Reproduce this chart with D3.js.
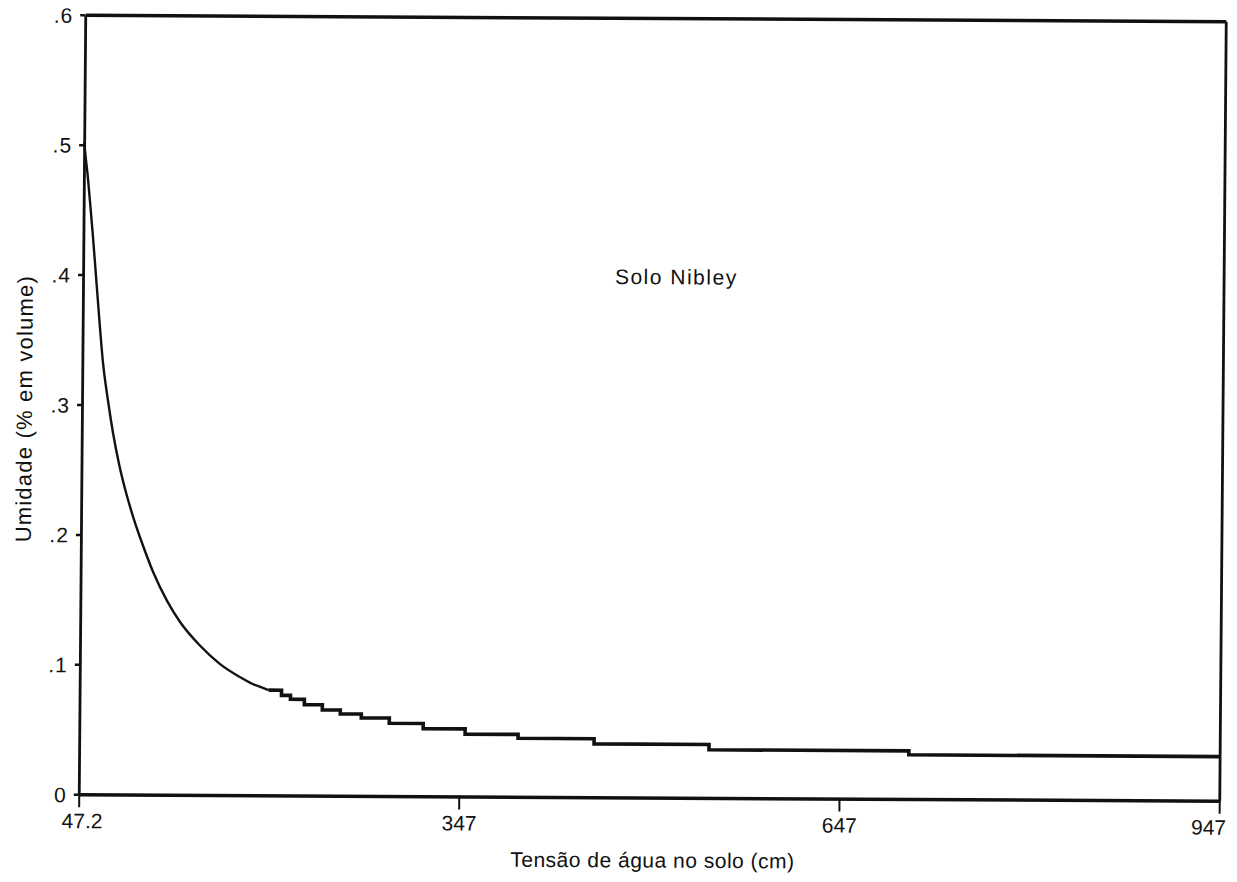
<!DOCTYPE html>
<html>
<head>
<meta charset="utf-8">
<script src="https://cdn.jsdelivr.net/npm/d3@7"></script>
<style>
  html, body { margin: 0; padding: 0; background: #fff; }
  svg { display: block; }
  text { font-family: "Liberation Sans", Arial, Helvetica, sans-serif; fill: #111; }
</style>
</head>
<body>
<svg id="chart" width="1237" height="882"></svg>
<script>
// Retention curve of the Nibley soil: water content vs. soil water tension
const xTicks = [47.2, 347, 647, 947];
const xTickLabels = ["47.2", "347", "647", "947"];
const yTicks = [0, 0.1, 0.2, 0.3, 0.4, 0.5, 0.6];
const yTickLabels = ["0", ".1", ".2", ".3", ".4", ".5", ".6"];

// steep part near saturation (drawn as a continuous line)
const headTension  = [47.2, 48.5, 50.0, 52.0, 54.5, 57.3, 60.8, 63.4, 67.7, 71.9, 76.9, 83.5, 88.2, 96.5, 104.6, 115.7, 126.0, 141.8, 157.6, 173.4, 182.8, 190.7, 196.3];
const headMoisture = [0.502, 0.490, 0.478, 0.458, 0.432, 0.400, 0.360, 0.333, 0.303, 0.278, 0.254, 0.229, 0.214, 0.191, 0.171, 0.149, 0.133, 0.115, 0.101, 0.091, 0.086, 0.083, 0.081];

// flat tail (plotter steps: each value holds until the next tension)
const tailTension  = [196.3, 206.5, 213.6, 224.6, 238.8, 253.0, 269.6, 291.7, 318.5, 351.6, 393.4, 453.4, 544.1, 701.8, 947];
const tailMoisture = [0.081, 0.077, 0.074, 0.070, 0.066, 0.063, 0.060, 0.056, 0.052, 0.048, 0.045, 0.041, 0.037, 0.034, 0.034];

const svg = d3.select("#chart");
const plotLeft = 82, plotRight = 1222, plotTop = 18, plotBottom = 797;

const x = d3.scaleLinear().domain([47.2, 947]).range([plotLeft, plotRight]);
const y = d3.scaleLinear().domain([0, 0.6]).range([plotBottom, plotTop]);

// the printed sheet sits slightly askew
const g = svg.append("g")
  .attr("transform", "matrix(1.00044,0.0057,-0.008344,1.00064,3.364,-3.729)");

const ink = "#111";

// frame: top and right edges
g.append("g")
  .attr("transform", `translate(0,${y(0.6)})`)
  .call(d3.axisTop(x).tickValues([]).tickSizeOuter(0))
  .call(s => s.select(".domain").attr("stroke", ink).attr("stroke-width", 3.5));

g.append("g")
  .attr("transform", `translate(${x(947)},0)`)
  .call(d3.axisRight(y).tickValues([]).tickSizeOuter(0))
  .call(s => s.select(".domain").attr("stroke", ink).attr("stroke-width", 2.8));

// left axis
const yAxis = g.append("g")
  .attr("transform", `translate(${plotLeft},0)`)
  .call(d3.axisLeft(y).tickValues(yTicks).tickSize(5).tickSizeOuter(0)
    .tickFormat((d, i) => yTickLabels[i]));
yAxis.select(".domain").attr("stroke", ink).attr("stroke-width", 2.8);
yAxis.selectAll(".tick line").attr("stroke", ink).attr("stroke-width", 2.5);
yAxis.selectAll(".tick text")
  .attr("x", -12).attr("dy", "0.36em")
  .style("font-size", "21px").style("letter-spacing", "1px").attr("fill", ink);

// bottom axis
const xAxis = g.append("g")
  .attr("transform", `translate(0,${plotBottom})`)
  .call(d3.axisBottom(x).tickValues(xTicks).tickSize(13).tickSizeOuter(0)
    .tickFormat((d, i) => xTickLabels[i]));
xAxis.select(".domain").attr("stroke", ink).attr("stroke-width", 3.5);
xAxis.selectAll(".tick line").attr("stroke", ink).attr("stroke-width", 2);
xAxis.selectAll(".tick text")
  .attr("y", 34).attr("dy", 0)
  .attr("dx", (d, i) => i === 0 ? 3 : (i === xTicks.length - 1 ? -11 : 0))
  .style("font-size", "21px").attr("fill", ink);

// curve
const head = headTension.map((t, i) => [t, headMoisture[i]]);
const tail = tailTension.map((t, i) => [t, tailMoisture[i]]);

g.append("path")
  .datum(head)
  .attr("fill", "none").attr("stroke", ink).attr("stroke-width", 2.4)
  .attr("stroke-linejoin", "round")
  .attr("d", d3.line().x(d => x(d[0])).y(d => y(d[1])).curve(d3.curveMonotoneX));

g.append("path")
  .datum(tail)
  .attr("fill", "none").attr("stroke", ink).attr("stroke-width", 3.6)
  .attr("d", d3.line().x(d => x(d[0])).y(d => y(d[1])).curve(d3.curveStepAfter));

// annotation and axis titles
g.append("text")
  .attr("x", 675).attr("y", 284)
  .attr("text-anchor", "middle")
  .style("font-size", "21px").style("letter-spacing", "1.5px")
  .text("Solo Nibley");

g.append("text")
  .attr("x", 656).attr("y", 867)
  .attr("text-anchor", "middle")
  .style("font-size", "21px").style("letter-spacing", "0.5px")
  .text("Tensão de água no solo (cm)");

g.append("text")
  .attr("transform", "translate(32,412) rotate(-90)")
  .attr("text-anchor", "middle")
  .style("font-size", "22px").style("letter-spacing", "1.2px")
  .text("Umidade (% em volume)");
</script>
</body>
</html>
